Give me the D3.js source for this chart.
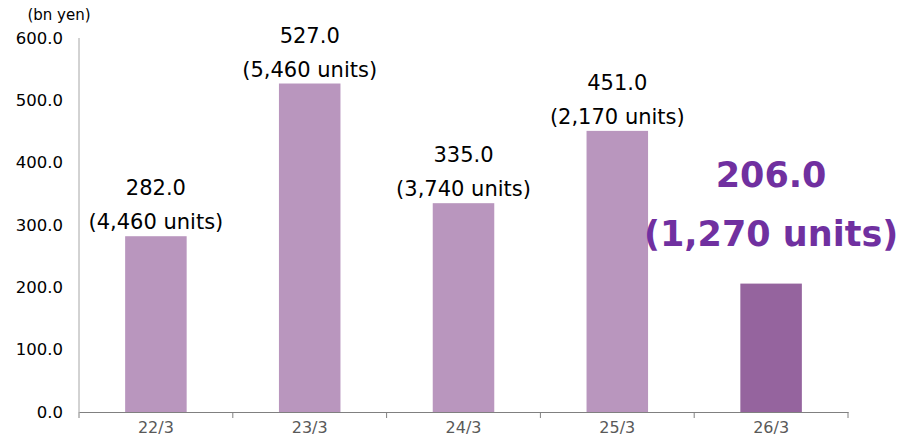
<!DOCTYPE html>
<html>
<head>
<meta charset="utf-8">
<script src="https://cdn.jsdelivr.net/npm/d3@7"></script>
<style>
body { margin: 0; background: #fff; }
text { font-family: "DejaVu Sans", Verdana, sans-serif; }
</style>
</head>
<body>
<script>
var width = 897, height = 439

// data
var periods = ["22/3", "23/3", "24/3", "25/3", "26/3"]
var sales = [282.0, 527.0, 335.0, 451.0, 206.0]
var units = ["4,460", "5,460", "3,740", "2,170", "1,270"]
var yTicks = [0, 100, 200, 300, 400, 500, 600]

var svg = d3.select("body")
.append("svg")
.attr("width", width)
.attr("height", height)

var x = d3.scaleBand()
	.domain(periods)
	.range([79, 848])
	.paddingInner(0.6)
	.paddingOuter(0.3)

var y = d3.scaleLinear()
	.domain([0, 600])
	.range([412, 38])

//y axis labels + line
svg.append("g")
	.selectAll("text")
	.data(yTicks)
	.enter()
	.append("text")
	.attr("x", 63)
	.attr("y", function(d) { return y(d) })
	.attr("dy", "0.35em")
	.attr("text-anchor", "end")
	.attr("font-size", 16.5)
	.attr("fill", "#000")
	.text(function(d) { return d.toFixed(1) })

svg.append("line")
	.attr("x1", 79).attr("x2", 79)
	.attr("y1", y(600)).attr("y2", y(0))
	.attr("stroke", "#a6a6a6")

svg.append("text")
	.attr("x", 59)
	.attr("y", 15)
	.attr("dy", "0.35em")
	.attr("text-anchor", "middle")
	.attr("font-size", 15)
	.text("(bn yen)")

//bars
var last = periods.length - 1
svg.selectAll(".bar")
	.data(sales)
	.enter()
	.append("rect")
	.attr("class", "bar")
	.attr("x", function(d, i) { return x(periods[i]) })
	.attr("width", x.bandwidth())
	.attr("y", function(d) { return y(d) })
	.attr("height", function(d) { return y(0) - y(d) })
	.attr("fill", function(d, i) { return i == last ? "#95649e" : "#b996be" })

//x axis
var xAxis = d3.axisBottom(x).tickSize(0).tickPadding(10)
var gx = svg.append("g")
	.attr("transform", "translate(0," + y(0) + ")")
	.call(xAxis)
gx.select(".domain").attr("stroke", "#808080")
gx.selectAll("text")
	.attr("font-size", 16)
	.attr("fill", "#595959")
	.attr("font-family", "DejaVu Sans, Verdana, sans-serif")

//tick marks between categories (pointing down)
var bounds = d3.range(periods.length + 1).map(function(i) { return 79 + i * (769 / periods.length) })
gx.selectAll(".sep")
	.data(bounds)
	.enter()
	.append("line")
	.attr("x1", function(d) { return d }).attr("x2", function(d) { return d })
	.attr("y1", 0).attr("y2", 6)
	.attr("stroke", "#808080")

//data labels
svg.selectAll(".lbl")
	.data(sales.slice(0, last))
	.enter()
	.append("g")
	.each(function(d, i) {
		var cx = x(periods[i]) + x.bandwidth() / 2
		var g = d3.select(this)
		g.append("text")
			.attr("x", cx).attr("y", y(d) - 41)
			.attr("text-anchor", "middle")
			.attr("font-size", 21)
			.text(d.toFixed(1))
		g.append("text")
			.attr("x", cx).attr("y", y(d) - 7)
			.attr("text-anchor", "middle")
			.attr("font-size", 21)
			.text("(" + units[i] + " units)")
	})

var cxLast = x(periods[last]) + x.bandwidth() / 2
svg.append("text")
	.attr("x", cxLast).attr("y", y(sales[last]) - 97)
	.attr("text-anchor", "middle")
	.attr("font-size", 35)
	.attr("font-weight", "bold")
	.attr("fill", "#7030a0")
	.text(sales[last].toFixed(1))
svg.append("text")
	.attr("x", cxLast).attr("y", y(sales[last]) - 38)
	.attr("text-anchor", "middle")
	.attr("font-size", 35)
	.attr("font-weight", "bold")
	.attr("fill", "#7030a0")
	.text("(" + units[last] + " units)")
</script>
</body>
</html>
